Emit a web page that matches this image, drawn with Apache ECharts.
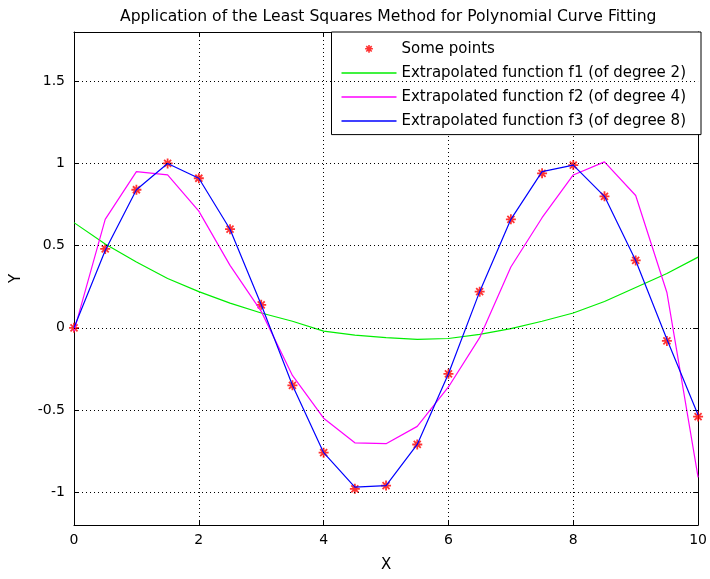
<!DOCTYPE html>
<html>
<head>
<meta charset="utf-8" />
<title>Least Squares Curve Fitting</title>
<script src="https://cdn.jsdelivr.net/npm/echarts@6/dist/echarts.min.js"></script>
<style>
  html, body { margin: 0; padding: 0; background: #fff; }
  #main { width: 710px; height: 579px; }
</style>
</head>
<body>
<div id="main"></div>
<script>
// sample x positions
var xValues = [0, 0.5, 1, 1.5, 2, 2.5, 3, 3.5, 4, 4.5, 5, 5.5, 6, 6.5, 7, 7.5, 8, 8.5, 9, 9.5, 10];
// red stars
var pointValues = [0, 0.48, 0.84, 1.0, 0.91, 0.6, 0.14, -0.35, -0.76, -0.98, -0.96, -0.71, -0.28, 0.22, 0.66, 0.94, 0.99, 0.8, 0.41, -0.08, -0.54];
// f1, degree 2 (green)
var f1Values = [0.64, 0.51, 0.40, 0.30, 0.22, 0.15, 0.09, 0.04, -0.02, -0.045, -0.06, -0.07, -0.065, -0.04, -0.005, 0.04, 0.09, 0.16, 0.245, 0.33, 0.43];
// f2, degree 4 (magenta)
var f2Values = [-0.02, 0.66, 0.95, 0.93, 0.71, 0.38, 0.1, -0.29, -0.55, -0.70, -0.705, -0.6, -0.36, -0.06, 0.37, 0.67, 0.93, 1.01, 0.805, 0.215, -0.91];
// f3, degree 8 (blue)
var f3Values = [0.0, 0.47, 0.84, 1.0, 0.91, 0.6, 0.14, -0.35, -0.76, -0.97, -0.96, -0.71, -0.28, 0.22, 0.66, 0.95, 0.99, 0.8, 0.41, -0.07, -0.53];
var yTicks = [-1, -0.5, 0, 0.5, 1, 1.5];

var names = ['Some points', 'Extrapolated function f1 (of degree 2)', 'Extrapolated function f2 (of degree 4)', 'Extrapolated function f3 (of degree 8)'];
var font = 'DejaVu Sans, sans-serif';
var star = 'path://M5,0L5,10M0,5L10,5M1.5,1.5L8.5,8.5M1.5,8.5L8.5,1.5';
// same asterisk with empty margin so the legend draws it smaller
var starIcon = 'path://M0,0L0,0M18,18L18,18M9,4L9,14M4,9L14,9M5.5,5.5L12.5,12.5M5.5,12.5L12.5,5.5';
var lineIcon = 'path://M0,0L55,0L55,1.5L0,1.5Z';

function pairs(ys) {
  return xValues.map(function (x, i) { return [x, ys[i]]; });
}

var myChart = echarts.init(document.getElementById('main'));

// horizontal dotted grid lines at the labelled ticks
var gridLines = yTicks.map(function (v) { return { yAxis: v }; });

myChart.setOption({
  animation: false,
  title: {
    text: 'Application of the Least Squares Method for Polynomial Curve Fitting',
    left: 115,
    top: 4,
    textStyle: { fontFamily: font, fontSize: 15.6, fontWeight: 'normal', color: '#000' }
  },
  grid: { left: 74, right: 9, top: 32, bottom: 54 },
  legend: {
    orient: 'vertical',
    right: 9,
    top: 32,
    itemWidth: 55,
    itemHeight: 14,
    itemGap: 9,
    padding: [9, 15, 6, 10],
    backgroundColor: '#fff',
    borderColor: '#000',
    borderWidth: 1,
    textStyle: { fontFamily: font, fontSize: 15, color: '#000' },
    data: [
      { name: names[0], icon: starIcon, itemStyle: { color: 'rgba(0,0,0,0)', borderColor: '#ff0000', borderWidth: 1.6 } },
      { name: names[1], icon: lineIcon },
      { name: names[2], icon: lineIcon },
      { name: names[3], icon: lineIcon }
    ]
  },
  xAxis: [{
    type: 'value', min: 0, max: 10, interval: 2,
    name: 'X', nameLocation: 'middle', nameGap: 33,
    nameTextStyle: { fontFamily: font, fontSize: 15, color: '#000' },
    axisLine: { onZero: false, lineStyle: { color: '#000', width: 1 } },
    axisTick: { inside: true, length: 5, lineStyle: { color: '#000' } },
    axisLabel: { fontFamily: font, fontSize: 14, color: '#000', margin: 8 },
    splitLine: { show: true, lineStyle: { color: '#000', width: 1, type: [1, 3] } }
  }, {
    type: 'value', min: 0, max: 10, interval: 2, position: 'top',
    axisLine: { onZero: false, lineStyle: { color: '#000', width: 1 } },
    axisTick: { inside: true, length: 5, lineStyle: { color: '#000' } },
    axisLabel: { show: false },
    splitLine: { show: false }
  }],
  yAxis: [{
    type: 'value', min: -1.2, max: 1.8,
    name: 'Y', nameLocation: 'middle', nameGap: 50, nameRotate: 90,
    nameTextStyle: { fontFamily: font, fontSize: 15, color: '#000' },
    axisLine: { show: true, onZero: false, lineStyle: { color: '#000', width: 1 } },
    axisTick: { show: true, inside: true, length: 5, customValues: yTicks, lineStyle: { color: '#000' } },
    axisLabel: { fontFamily: font, fontSize: 14, color: '#000', margin: 9, customValues: yTicks },
    splitLine: { show: false }
  }, {
    type: 'value', min: -1.2, max: 1.8, position: 'right',
    axisLine: { show: true, onZero: false, lineStyle: { color: '#000', width: 1 } },
    axisTick: { show: true, inside: true, length: 5, customValues: yTicks, lineStyle: { color: '#000' } },
    axisLabel: { show: false },
    splitLine: { show: false }
  }],
  series: [
    {
      name: 'grid',
      type: 'line',
      data: [],
      z: 1,
      silent: true,
      markLine: {
        silent: true,
        symbol: 'none',
        label: { show: false },
        lineStyle: { color: '#000', width: 1, type: [1, 3] },
        data: gridLines
      }
    },
    {
      name: names[0],
      type: 'scatter',
      data: pairs(pointValues),
      symbol: star,
      symbolSize: 10,
      itemStyle: { color: 'rgba(0,0,0,0)', borderColor: '#ff0000', borderWidth: 1.8 },
      z: 2
    },
    {
      name: names[1],
      type: 'line',
      data: pairs(f1Values),
      symbol: 'none',
      lineStyle: { color: '#00ee00', width: 1.2 },
      itemStyle: { color: '#00ee00' },
      z: 3
    },
    {
      name: names[2],
      type: 'line',
      data: pairs(f2Values),
      symbol: 'none',
      lineStyle: { color: '#ff00ff', width: 1.2 },
      itemStyle: { color: '#ff00ff' },
      z: 3
    },
    {
      name: names[3],
      type: 'line',
      data: pairs(f3Values),
      symbol: 'none',
      lineStyle: { color: '#0000ff', width: 1.2 },
      itemStyle: { color: '#0000ff' },
      z: 3
    }
  ]
});
</script>
</body>
</html>
